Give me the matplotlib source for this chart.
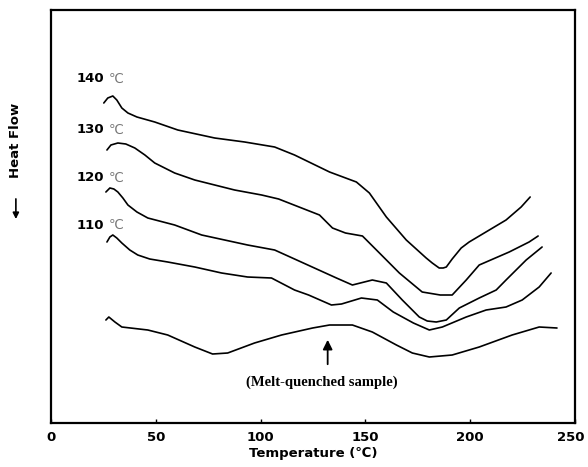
"""DSC heating curves of annealed samples vs. melt-quenched sample."""

import matplotlib

matplotlib.use("Agg")
import matplotlib.pyplot as plt
from matplotlib.transforms import ScaledTranslation

# Temperature (C) and heat flow (arbitrary units)
T_140 = [25.2, 27.1, 29.5, 31.4, 33.8, 36.7, 41.0, 49.5, 60.5, 78.1, 92.4,
         106.7, 116.2, 132.9, 145.7, 151.9, 160.0, 169.5, 179.0, 181.9, 185.2,
         187.1, 188.6, 191.4, 195.7, 199.5, 217.1, 224.3, 228.6]
HF_140 = [32.0, 32.5, 32.7, 32.3, 31.5, 31.0, 30.6, 30.1, 29.3, 28.5, 28.1,
          27.6, 26.8, 25.1, 24.1, 23.0, 20.6, 18.3, 16.5, 16.0, 15.5,
          15.5, 15.6, 16.4, 17.5, 18.1, 20.3, 21.6, 22.6]

T_130 = [26.7, 28.6, 31.9, 35.7, 40.0, 44.8, 49.5, 59.0, 68.6, 87.6, 100.5,
         108.6, 128.1, 134.3, 140.5, 148.6, 156.7, 166.2, 177.1, 185.7, 191.4,
         198.1, 204.3, 218.6, 228.1, 232.4]
HF_130 = [27.3, 27.8, 28.0, 27.9, 27.5, 26.8, 26.0, 25.0, 24.3, 23.3, 22.8,
          22.4, 20.8, 19.5, 19.0, 18.7, 17.0, 15.0, 13.1, 12.8, 12.8, 14.3,
          15.8, 17.1, 18.1, 18.7]

T_120 = [26.2, 28.1, 30.0, 31.9, 34.3, 36.7, 41.0, 46.2, 59.0, 71.9, 93.8,
         106.7, 116.2, 136.2, 143.8, 153.3, 160.0, 167.6, 175.7, 179.5, 183.8,
         188.6, 194.8, 204.3, 212.4, 217.1, 226.7, 234.3]
HF_120 = [23.1, 23.5, 23.4, 23.1, 22.5, 21.8, 21.1, 20.5, 19.8, 18.8, 17.8,
          17.3, 16.4, 14.5, 13.8, 14.3, 14.0, 12.3, 10.6, 10.2, 10.1, 10.3,
          11.5, 12.5, 13.3, 14.3, 16.3, 17.6]

T_110 = [26.7, 28.1, 29.5, 31.4, 33.8, 37.6, 41.4, 47.1, 55.7, 68.6, 81.4,
         93.8, 105.2, 116.2, 122.9, 133.8, 138.6, 148.1, 155.7, 163.3, 172.9,
         180.5, 186.7, 198.1, 207.6, 217.1, 224.8, 232.9, 238.6]
HF_110 = [18.1, 18.6, 18.8, 18.5, 18.0, 17.3, 16.8, 16.4, 16.1, 15.6, 15.0,
          14.6, 14.5, 13.3, 12.8, 11.8, 11.9, 12.5, 12.3, 11.1, 10.0, 9.3,
          9.6, 10.6, 11.3, 11.6, 12.3, 13.6, 15.0]

T_mq = [26.2, 27.6, 30.5, 33.8, 46.2, 55.7, 68.6, 77.1, 84.3, 97.1, 110.0,
        124.8, 132.9, 143.8, 153.3, 164.8, 172.4, 180.5, 191.4, 204.3, 220.0,
        232.9, 241.4]
HF_mq = [10.3, 10.6, 10.1, 9.6, 9.3, 8.8, 7.6, 6.9, 7.0, 8.0, 8.8, 9.5, 9.8,
         9.8, 9.1, 7.8, 7.0, 6.6, 6.8, 7.6, 8.8, 9.6, 9.5]

CURVES = [(T_140, HF_140), (T_130, HF_130), (T_120, HF_120), (T_110, HF_110),
          (T_mq, HF_mq)]
LABELS = ["140", "130", "120", "110"]
LABEL_Y = [34.4, 29.3, 24.5, 19.8]
X_TICKS = [0, 50, 100, 150, 200, 250]


def main() -> None:
    fig = plt.figure(figsize=(5.88, 4.67), dpi=100)
    ax = fig.add_axes([0.0867, 0.0942, 0.8912, 0.8844])

    for temps, flow in CURVES:
        ax.plot(temps, flow, color="black", lw=1.2,
                solid_capstyle="round", solid_joinstyle="round")

    for lab, y in zip(LABELS, LABEL_Y):
        ax.text(12.4, y, lab, fontsize=9.5, fontweight="bold", ha="left", va="center")
        ax.text(27.5, y, "℃", fontsize=9.5, color="#777777", ha="left", va="center")

    ax.annotate("", xy=(132, 8.6), xytext=(132, 5.6),
                arrowprops=dict(arrowstyle="-|>", color="black", lw=1.3,
                                mutation_scale=14))
    ax.text(129, 4.1, "(Melt-quenched sample)", family="Liberation Serif",
            fontweight="bold", fontsize=10.5, ha="center", va="center")

    ax.set_xlim(0, 250)
    ax.set_ylim(0, 41.3)
    ax.set_xticks(X_TICKS)
    ax.set_xticklabels([str(t) for t in X_TICKS], fontweight="bold", fontsize=9.5)
    ax.set_yticks([])
    ax.tick_params(axis="x", direction="in", length=3, width=1, pad=6)
    for spine in ax.spines.values():
        spine.set_linewidth(1.6)

    # last tick label sits right at the figure edge, nudge it in a bit
    last = ax.get_xticklabels()[-1]
    last.set_transform(last.get_transform()
                       + ScaledTranslation(-4 / 100, 0, fig.dpi_scale_trans))

    ax.set_xlabel("Temperature (℃)", fontweight="bold", fontsize=9.5, labelpad=2)

    fig.text(0.027, 0.70, "Heat Flow", rotation=90, fontweight="bold",
             fontsize=9.5, ha="center", va="center")
    fig.add_artist(matplotlib.patches.FancyArrowPatch(
        (0.027, 0.580), (0.027, 0.525), transform=fig.transFigure,
        arrowstyle="-|>", mutation_scale=9, lw=1.2, color="black"))

    fig.savefig("out.png", dpi=100)
    plt.close(fig)


if __name__ == "__main__":
    main()
